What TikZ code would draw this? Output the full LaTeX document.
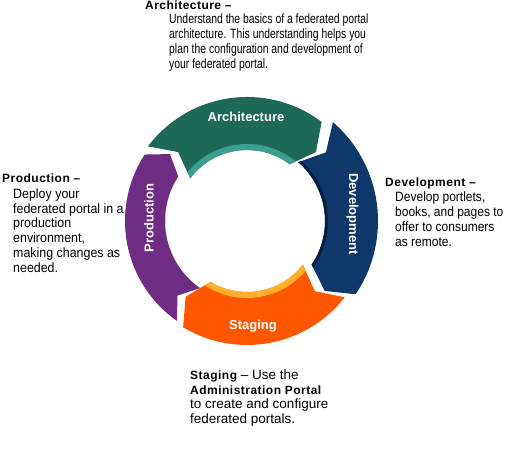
\documentclass[tikz,border=0pt]{standalone}
\usepackage{fontspec}
\setmainfont{Liberation Sans}
\newfontfamily\hdfont[LetterSpace=4]{Liberation Sans Bold}
\newfontfamily\lblfont{Liberation Sans Bold}
\newfontfamily\bodyA[FakeStretch=0.77]{Liberation Sans}
\newfontfamily\bodyP[FakeStretch=0.92]{Liberation Sans}
\newfontfamily\bodyD[FakeStretch=0.89]{Liberation Sans}
\newfontfamily\bodyS[FakeStretch=1.0]{Liberation Sans}
\definecolor{archc}{RGB}{30,104,88}
\definecolor{archrim}{RGB}{60,158,140}
\definecolor{devc}{RGB}{14,56,106}
\definecolor{devrim}{RGB}{8,30,62}
\definecolor{stagc}{RGB}{255,86,0}
\definecolor{stagrim}{RGB}{255,176,40}
\definecolor{prodc}{RGB}{110,44,130}
% chevron ring segment outline (uses precomputed macros)
\newcommand\ringpath{%
  (\rsTo:\rsRo pt) arc[start angle=\rsTo, end angle=\rsHc, radius=\rsRo pt]
    -- (\rsHp:\rsRm pt) -- (\rsHc:\rsRi pt)
    arc[start angle=\rsHc, end angle=\rsTo, radius=\rsRi pt]
    -- (\rsTn:\rsRm pt) -- cycle
}
% #1 tail junction angle, #2 head junction angle, #3 outer r, #4 inner r
% #5 main colour, #6 rim colour, #7 rim width
\newcommand\ringseg[7]{%
  \pgfmathsetmacro\rsTo{#1+6}%
  \pgfmathsetmacro\rsTn{#1-2}%
  \pgfmathsetmacro\rsHc{#2+10}%
  \pgfmathsetmacro\rsHp{#2+2}%
  \pgfmathsetmacro\rsRm{(#3+#4)/2}%
  \pgfmathsetmacro\rsRo{#3}%
  \pgfmathsetmacro\rsRi{#4}%
  \pgfmathsetmacro\rsRr{#4+#7}%
  \fill[#5] \ringpath;
  \begin{scope}
    \clip \ringpath;
    \fill[#6] (0,0) circle[radius=\rsRr pt];
  \end{scope}
}
\tikzset{
  ringlabel/.style={text=white, font=\lblfont\fontsize{13}{15}\selectfont, inner sep=0pt},
  heading/.style={anchor=base west, inner sep=0pt, font=\hdfont\fontsize{12}{14.8}\selectfont},
  body/.style={anchor=base west, inner sep=0pt, align=left}
}
\begin{document}
\begin{tikzpicture}[x=1pt,y=1pt]
\useasboundingbox (0,0) rectangle (505,470);
\fill[white] (0,0) rectangle (505,470);
\coordinate (C) at (247,249);
\begin{scope}[shift={(C)}]
  % Architecture
  \ringseg{137}{43}{124}{71}{archc}{archrim}{6}
  % Development
  \ringseg{43}{-44}{131}{78}{devc}{devrim}{3}
  % Staging
  \ringseg{-44}{-131}{124}{71}{stagc}{stagrim}{6}
  % Production
  \ringseg{229}{137}{122}{82}{prodc}{prodc}{0}
\end{scope}
\node[ringlabel] (larch) at (246,353) {Architecture};
\node[ringlabel, rotate=-90] (ldev) at (352.5,256) {Development};
\node[ringlabel] (lstag) at (253,144) {Staging};
\node[ringlabel, rotate=90] (lprod) at (149,252) {Production};

\node[heading] (harch) at (145,460.5) {Architecture –};
\node[body] (barch) at (169,446) {\bodyA\fontsize{13.5}{14.8}\selectfont\begin{tabular}[t]{@{}l@{}}Understand the basics of a federated portal\\ architecture. This understanding helps you\\ plan the configuration and development of\\ your federated portal.\end{tabular}};

\node[heading] (hprod) at (2,287) {Production –};
\node[body] (bprod) at (13,271.7) {\bodyP\fontsize{13.5}{14.8}\selectfont\begin{tabular}[t]{@{}l@{}}Deploy your\\ federated portal in a\\ production\\ environment,\\ making changes as\\ needed.\end{tabular}};

\node[heading] (hdev) at (385,283) {Development –};
\node[body] (bdev) at (395,268) {\bodyD\fontsize{13.5}{14.8}\selectfont\begin{tabular}[t]{@{}l@{}}Develop portlets,\\ books, and pages to\\ offer to consumers\\ as remote.\end{tabular}};

\node[body] (bstag) at (190,90) {\bodyS\fontsize{13.5}{14.5}\selectfont\begin{tabular}[t]{@{}l@{}}{\hdfont\fontsize{12}{14.5}\selectfont Staging} – Use the\\ {\hdfont\fontsize{12}{14.5}\selectfont Administration Portal}\\ to create and configure\\ federated portals.\end{tabular}};
\end{tikzpicture}
\end{document}
